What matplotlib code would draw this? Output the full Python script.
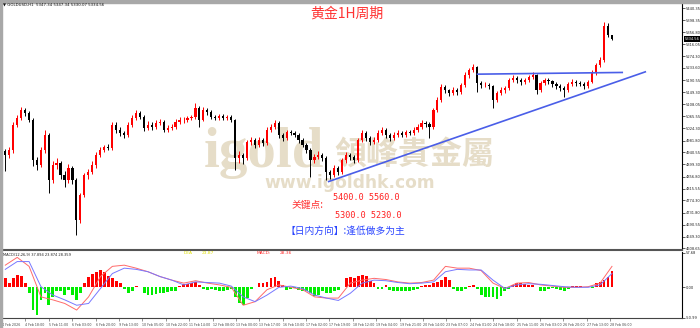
import matplotlib
matplotlib.use("Agg")
import matplotlib.pyplot as plt
import numpy as np

# ---------------- data ----------------
first_open = 4945
closes = [4932, 4949, 5036, 5060, 5088, 5077, 5053, 4914, 4897, 4949,
          5001, 4845, 4897, 4904, 4862, 4845, 4887, 4845, 4707, 4793,
          4862, 4873, 4897, 4932, 4949, 4960, 4956, 5036, 5018, 5008,
          5001, 5036, 5060, 5077, 5064, 5025, 5036, 5029, 5043, 5046,
          5018, 5025, 5029, 5046, 5053, 5053, 5060, 5064, 5095, 5053,
          5088, 5081, 5064, 5060, 5067, 5060, 5064, 5053, 4921, 4932,
          4921, 4977, 4984, 4966, 4984, 4973, 5018, 5029, 5043, 5001,
          4991, 5012, 5008, 5001, 4984, 4966, 4949, 4914, 4925, 4932,
          4921, 4873, 4862, 4887, 4873, 4914, 4932, 4925, 4914, 4984,
          5008, 4991, 4977, 4984, 5008, 5018, 5001, 4991, 5001, 5008,
          5001, 5012, 5008, 5018, 5029, 5043, 5039, 5029, 5088, 5122,
          5168, 5157, 5147, 5157, 5150, 5174, 5209, 5226, 5237, 5181,
          5174, 5174, 5171, 5122, 5147, 5157, 5164, 5192, 5199, 5192,
          5185, 5192, 5202, 5209, 5157, 5181, 5192, 5188, 5178, 5171,
          5164, 5157, 5178, 5185, 5181, 5178, 5171, 5185, 5216, 5244,
          5261, 5380, 5347.34, 5334.56]
highs = [4952, 4960, 5045, 5070, 5098, 5095, 5085, 5060, 4925, 4958,
         5018, 5008, 4910, 4920, 4912, 4875, 4900, 4895, 4852, 4800,
         4870, 4885, 4910, 4942, 4958, 4968, 4970, 5045, 5045, 5028,
         5015, 5045, 5070, 5088, 5085, 5070, 5048, 5045, 5052, 5056,
         5052, 5035, 5038, 5055, 5062, 5062, 5068, 5072, 5112, 5100,
         5098, 5095, 5088, 5072, 5075, 5074, 5072, 5070, 5058, 4945,
         4940, 4985, 4995, 4990, 4995, 4990, 5028, 5040, 5053, 5048,
         5008, 5020, 5018, 5015, 5008, 4990, 4972, 4955, 4935, 4945,
         4940, 4928, 4880, 4898, 4895, 4922, 4942, 4940, 4932, 4992,
         5018, 5015, 4998, 4995, 5018, 5030, 5025, 5008, 5010, 5018,
         5015, 5020, 5020, 5028, 5038, 5052, 5050, 5046, 5095, 5132,
         5178, 5175, 5162, 5166, 5165, 5182, 5218, 5235, 5246, 5242,
         5190, 5185, 5182, 5176, 5155, 5166, 5172, 5200, 5210, 5206,
         5198, 5200, 5210, 5218, 5214, 5190, 5200, 5198, 5192, 5185,
         5178, 5170, 5186, 5194, 5192, 5188, 5184, 5192, 5225, 5252,
         5270, 5393, 5390, 5347.34]
lows = [4875, 4920, 4940, 5028, 5052, 5068, 5045, 4895, 4880, 4890,
        4940, 4800, 4835, 4885, 4850, 4820, 4835, 4830, 4655, 4695,
        4785, 4850, 4865, 4888, 4925, 4942, 4948, 4950, 5008, 4998,
        4990, 4995, 5028, 5052, 5055, 5015, 5018, 5020, 5022, 5035,
        5010, 5010, 5018, 5022, 5040, 5044, 5046, 5052, 5058, 5030,
        5048, 5072, 5056, 5052, 5052, 5052, 5054, 5045, 4880, 4905,
        4900, 4915, 4968, 4955, 4958, 4962, 4968, 5010, 5022, 4992,
        4980, 4985, 5000, 4994, 4975, 4958, 4940, 4855, 4905, 4918,
        4910, 4845, 4850, 4855, 4862, 4866, 4905, 4915, 4905, 4908,
        4976, 4982, 4968, 4970, 4978, 5000, 4992, 4982, 4985, 4994,
        4993, 4995, 5000, 5002, 5012, 5022, 5030, 4991, 5022, 5080,
        5115, 5148, 5135, 5140, 5140, 5145, 5168, 5200, 5218, 5150,
        5165, 5166, 5160, 5095, 5115, 5140, 5148, 5158, 5185, 5180,
        5175, 5178, 5185, 5195, 5145, 5150, 5175, 5178, 5168, 5162,
        5152, 5133, 5150, 5172, 5172, 5170, 5162, 5165, 5180, 5208,
        5236, 5255, 5340, 5330.07]

macd_hist = [15, 7, 15, 20, 19, 7, -10, -38, -46, -21,
             -10, -30, -16, -7, -7, -13, -4, -13, -21, -10,
             7, 18, 22, 26, 29, 26, 19, 15, 11, 7,
             -2, -9, -7, 2, 1, -10, -13, -13, -12, -10,
             -9, -8, -7, -6, 2, 5, 6, 8, 9, 4,
             -2, -4, -3, -4, -6, -6, -4, -3, -16, -27,
             -30, -18, -2, 0, 7, 8, 9, 15, 18, 11,
             4, -4, -2, -1, -4, -6, -7, -10, -14, -13,
             -7, -10, -9, -7, -4, 0, 15, 18, 15, 19,
             21, 19, 11, 7, -2, -2, 4, -4, -6, -6,
             -7, -7, -6, -4, -2, 3, 4, 4, 7, 9,
             13, 18, 12, -3, -6, -7, -3, 3, 4, -2,
             -13, -16, -17, -17, -20, -14, -7, -2, 4, 7,
             7, 6, 4, 4, 1, -6, -7, -3, -1, -2,
             -4, -6, -3, 2, 2, 2, 1, 0, -1, 7,
             9, 12, 18, 28]
# line values sampled every 3rd bar
macd_dif = [37, 50, 35, -16, -21, -27, -38, -16, 18, 35,
            37, 32, 26, 18, 12, 7, 11, 7, 4, 0,
            -30, -24, -4, 4, 0, -4, -16, -18, -18, 7,
            12, 15, 13, 9, 7, 8, 12, 35, 32, 32,
            28, 7, -2, 7, 8, 4, 2, 0, 0, 1,
            7, 35]
macd_dea = [30, 43, 43, 1, -13, -21, -30, -27, -2, 23,
            32, 30, 26, 18, 12, 4, 9, 8, 7, 2,
            -16, -24, -13, 0, 2, -2, -13, -18, -22, -10,
            7, 12, 11, 8, 6, 7, 9, 26, 30, 29,
            29, 12, -2, 4, 6, 5, 3, 1, 0, 0,
            4, 23]

price_ticks = [5440.35, 5398.35, 5356.80, 5316.05, 5274.30, 5233.60, 5190.55,
               5149.30, 5108.05, 5065.55, 5024.30, 4981.80, 4940.55, 4899.30,
               4856.80, 4815.55, 4774.30, 4731.80, 4690.55, 4649.30, 4608.65]
macd_ticks = [57.68, 0.00, -50.99]
time_labels = ["4 Feb 2026", "4 Feb 18:00", "5 Feb 11:00", "6 Feb 03:00", "6 Feb 20:00",
               "9 Feb 13:00", "10 Feb 05:00", "10 Feb 22:00", "11 Feb 14:00", "12 Feb 08:00",
               "13 Feb 00:00", "13 Feb 17:00", "16 Feb 10:00", "17 Feb 02:00", "17 Feb 19:00",
               "18 Feb 12:00", "19 Feb 04:00", "19 Feb 21:00", "20 Feb 14:00", "23 Feb 07:00",
               "24 Feb 01:00", "24 Feb 18:00", "25 Feb 11:00", "26 Feb 03:00", "26 Feb 20:00",
               "27 Feb 13:00", "28 Feb 06:00"]

trend_up_idx = [81.4, 161.6]
trend_up_price = [4839, 5221]
trend_flat_idx = [118.9, 155.8]
trend_flat_price = [5212, 5218]

last_price = 5334.56
title = "黄金1H周期"
key_label = "关键点:"
key_line1 = "5400.0 5560.0"
key_line2 = "5300.0 5230.0"
direction = "【日内方向】:逢低做多为主"

# ---------------- figure ----------------
W, H = 700, 328
fig = plt.figure(figsize=(7, 3.28), dpi=100)
fig.patch.set_facecolor("white")


def fx(px):
    return px / W


def fy(py):
    return 1 - py / H


ax = fig.add_axes([fx(2), fy(250), 680 / W, 247 / H])
axm = fig.add_axes([fx(2), fy(318), 680 / W, 66 / H])

# frame
fig.patches.append(plt.Rectangle((0, fy(3)), 1, 3 / H, transform=fig.transFigure,
                                 color="#a8a8a8", zorder=0))
fig.patches.append(plt.Rectangle((0, 0), 2 / W, 1, transform=fig.transFigure,
                                 color="#a8a8a8", zorder=0))

n = len(closes)
idx = np.arange(n)
c = np.array(closes, dtype=float)
o = np.array([first_open] + closes[:-1], dtype=float)
hi = np.array(highs, dtype=float)
lo = np.array(lows, dtype=float)
up = c >= o
cols = np.where(up, "#ff0000", "#000000")

ax.vlines(idx, lo, hi, colors=cols, lw=0.7, zorder=2)
body_h = np.maximum(np.abs(c - o), 1.5)
ax.bar(idx, body_h, bottom=np.minimum(o, c), width=0.55, color=cols, zorder=2, linewidth=0)

ax.plot(trend_up_idx, trend_up_price, color="#4a5ee8", lw=1.2, zorder=3, solid_capstyle="butt")
ax.plot(trend_flat_idx, trend_flat_price, color="#4a5ee8", lw=1.2, zorder=3, solid_capstyle="butt")

x_left = -0.756
x_right = x_left + 680 / 3.967
ax.set_xlim(x_left, x_right)
ax.set_ylim(4602.6, 5458.7)
axm.set_xlim(x_left, x_right)
axm.set_ylim(-51.3, 59.0)

# MACD panel
hist = np.array(macd_hist, dtype=float)
hcols = np.where(hist >= 0, "#ff0000", "#00ee00")
axm.bar(idx, hist, width=0.72, color=hcols, linewidth=0, zorder=2)
lidx = np.arange(0, n, 3)
axm.plot(lidx, macd_dif, color="#ff6a6a", lw=0.7, zorder=3)
axm.plot(lidx, macd_dea, color="#7878ff", lw=0.7, zorder=3)

# spines / ticks
for a in (ax, axm):
    a.spines["left"].set_visible(False)
    a.spines["right"].set_color("black")
    a.spines["right"].set_linewidth(0.8)
    a.yaxis.tick_right()
    a.tick_params(axis="y", direction="out", length=2, width=0.5, labelsize=2.6,
                  pad=1, colors="#222222")
    a.set_facecolor("white")

ax.spines["top"].set_visible(False)
ax.spines["bottom"].set_color("#555555")
ax.spines["bottom"].set_linewidth(1.5)
axm.spines["top"].set_visible(False)
axm.spines["bottom"].set_color("#444444")
axm.spines["bottom"].set_linewidth(0.8)

ax.set_yticks(price_ticks)
ax.set_yticklabels([f"{v:.2f}" for v in price_ticks])
ax.set_xticks([])

axm.set_yticks(macd_ticks)
axm.set_yticklabels([f"{v:.2f}" for v in macd_ticks])
tick_pos = -0.83 + 5.899 * np.arange(len(time_labels))
axm.set_xticks(tick_pos)
axm.set_xticklabels(time_labels, ha="left", fontsize=2.3, color="#222222")
axm.tick_params(axis="x", direction="out", length=2.5, width=0.4, pad=0.8, colors="#444444")

# current price box
ax.text(1.004, last_price, f"{last_price:.2f}", transform=ax.get_yaxis_transform(),
        ha="left", va="center", fontsize=2.6, color="white", clip_on=False,
        bbox=dict(facecolor="black", edgecolor="none", pad=0.7), zorder=5)

# watermark (inside main axes, below candles)
wm = "#e6ddc8"
ax.text(fx(204), fy(167), "igold", transform=fig.transFigure, family="Liberation Serif",
        weight="bold", fontsize=41, color=wm, ha="left", va="baseline", zorder=0.5)
ax.text(fx(414), fy(155), "領峰貴金屬", transform=fig.transFigure,
        family=["Noto Sans CJK TC", "DejaVu Sans"], weight="bold", fontsize=23,
        color=wm, ha="center", va="center", zorder=0.5)
ax.text(fx(350), fy(183), "www.igoldhk.com", transform=fig.transFigure, family="DejaVu Sans",
        weight="bold", fontsize=12.3, color=wm, ha="center", va="center", zorder=0.5)

cjk = ["Noto Sans CJK SC", "DejaVu Sans"]
# title
fig.text(fx(347), fy(14), title, family=cjk, fontsize=10, color="#ff3333",
         ha="center", va="center")
# header
fig.text(fx(3), fy(5), "▼ GOLDUSD,H1  5347.34 5347.34 5330.07 5334.56", fontsize=2.8,
         color="#111111", ha="left", va="center")

# key points
fig.text(fx(292), fy(205), key_label, family=cjk, fontsize=7, color="#ff3030",
         ha="left", va="center")
fig.text(fx(333), fy(197), key_line1, family="DejaVu Sans Mono", fontsize=6.1,
         color="#ff2020", ha="left", va="center")
fig.text(fx(335), fy(215), key_line2, family="DejaVu Sans Mono", fontsize=6.1,
         color="#ff2020", ha="left", va="center")
fig.text(fx(285), fy(230.5), direction, family=cjk, fontsize=7, color="#2a45ff",
         ha="left", va="center")

# MACD labels
fig.text(fx(3), fy(254.5), "MACD(12,26,9) 37.894 23.874 28.359", fontsize=2.6,
         color="#222222", ha="left", va="center")
fig.text(fx(184), fy(253.5), "DEA", fontsize=3.2, color="#e0e000", ha="left", va="center")
fig.text(fx(202), fy(253.5), "23.87", fontsize=3.2, color="#e0e000", ha="left", va="center")
fig.text(fx(257), fy(253.5), "MACD:", fontsize=3.2, color="#ff3030", ha="left", va="center")
fig.text(fx(280), fy(253.5), "28.36", fontsize=3.2, color="#ff3030", ha="left", va="center")

fig.savefig("out.png", dpi=100)
